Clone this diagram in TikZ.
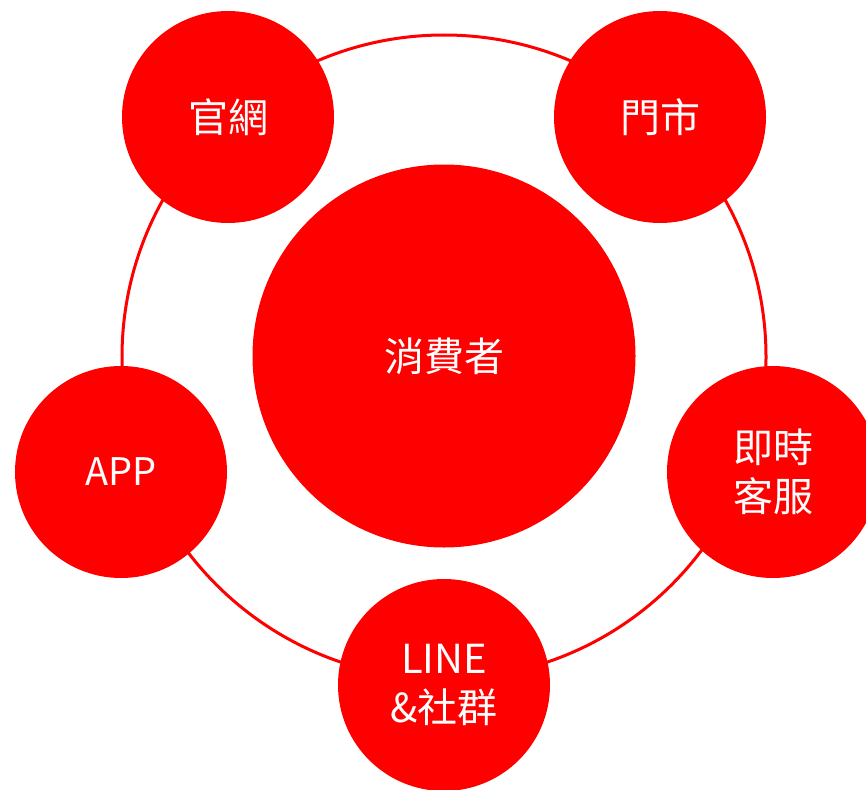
\documentclass[tikz,border=0pt]{standalone}
\usepackage{fontspec}
\newfontfamily\cjk{Noto Sans CJK TC}
\definecolor{cred}{RGB}{255,0,0}
\tikzset{
  ring/.style={draw=cred,line width=3pt},
  bubble/.style={circle,fill=cred,text=white,inner sep=0pt,align=center,font=\cjk\fontsize{40}{49}\selectfont},
}
\begin{document}
\begin{tikzpicture}[x=1pt,y=-1pt]
\useasboundingbox (0,0) rectangle (866,789);
\node[circle,ring,minimum size=644pt,inner sep=0pt] (ringc) at (444,357) {};
\node[bubble,minimum size=383pt] (center) at (444,356) {消費者};
\node[bubble,minimum size=212pt] (web) at (228,117) {官網};
\node[bubble,minimum size=212pt] (store) at (660,117) {門市};
\node[bubble,minimum size=212pt] (service) at (773,472) {即時\\客服};
\node[bubble,minimum size=212pt] (app) at (121,472) {\fontsize{38}{49}\selectfont APP};
\node[bubble,minimum size=212pt] (line) at (444,685) {LINE\\\&社群};
\end{tikzpicture}
\end{document}
